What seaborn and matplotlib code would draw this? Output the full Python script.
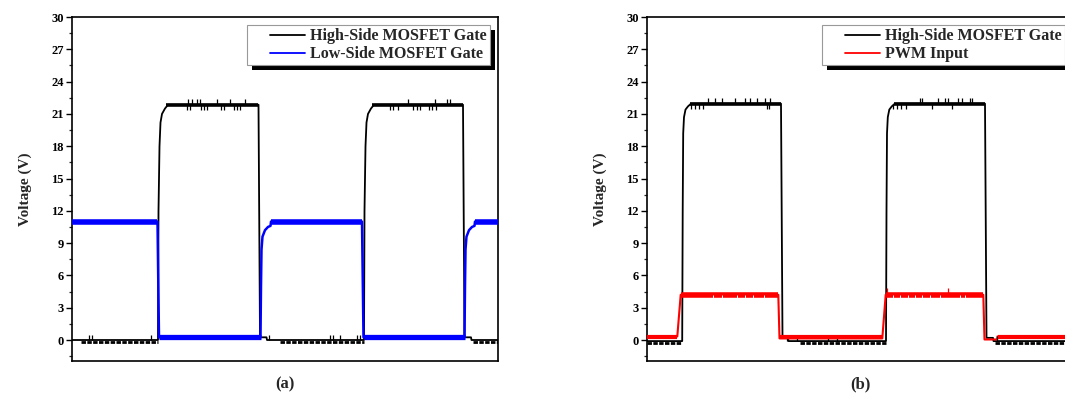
import numpy as np
import pandas as pd
import matplotlib
matplotlib.use("Agg")
import matplotlib.pyplot as plt
import seaborn as sns
from matplotlib.lines import Line2D
from matplotlib.patches import Rectangle
from matplotlib.transforms import IdentityTransform
from matplotlib.ticker import MultipleLocator
from matplotlib.legend_handler import HandlerLine2D

# ---- panel (a): high-side vs low-side gate (time in us) ----
hs_a_t = [0.0, 8.6, 8.65, 8.75, 8.85, 9.0, 9.3, 9.6, 18.65, 18.8, 19.45, 19.5,
          29.2, 29.25, 29.35, 29.45, 29.6, 29.9, 30.2, 39.1, 39.25, 39.9, 39.95, 42.6]
hs_a_v = [0.0, 0.0, 12.0, 18.0, 20.2, 21.0, 21.5, 21.85, 21.85, 0.25, 0.25, 0.0,
          0.0, 12.0, 18.0, 20.2, 21.0, 21.5, 21.85, 21.85, 0.25, 0.25, 0.0, 0.0]
hs_a_top = 21.85
hs_a_top_start = [9.4, 30.0]
hs_a_top_end = [18.6, 39.05]
hs_a_comb_start = [0.9, 20.8, 40.1]
hs_a_comb_end = [8.6, 29.2, 42.6]
hs_a_spk_up = [11.6, 12.0, 12.5, 12.8, 14.5, 15.8, 17.3, 33.6, 36.3, 37.5, 37.8]
hs_a_spk_dn = [11.5, 11.8, 12.9, 13.2, 13.5, 14.9, 15.2, 16.2, 16.5, 16.8,
               31.8, 32.1, 32.6, 34.1, 34.5, 34.8, 35.7, 36.0, 36.4]
hs_a_low_spk = [1.7, 2.0, 7.9, 19.7, 25.8, 26.1, 26.8, 28.5, 28.8]

ls_a_t = [0.0, 8.55, 8.7, 18.85, 18.9, 18.95, 19.05, 19.3, 19.6, 19.85, 19.9,
          29.0, 29.15, 39.25, 39.3, 39.35, 39.45, 39.7, 40.0, 40.25, 40.3, 42.6]
ls_a_v = [11.0, 11.0, 0.25, 0.25, 5.0, 8.4, 9.6, 10.2, 10.5, 10.6, 11.0,
          11.0, 0.25, 0.25, 5.0, 8.4, 9.6, 10.2, 10.5, 10.6, 11.0, 11.0]
ls_a_hi, ls_a_lo = 10.95, 0.25
ls_a_hi_start = [0.0, 19.9, 40.3]
ls_a_hi_end = [8.5, 29.0, 42.6]
ls_a_lo_start = [8.7, 29.15]
ls_a_lo_end = [18.85, 39.25]

# ---- panel (b): high-side gate vs PWM input ----
hs_b_t = [0.0, 3.52, 3.57, 3.62, 3.7, 3.85, 4.1, 4.4, 13.4, 13.55, 14.1, 14.15,
          23.9, 23.95, 24.0, 24.08, 24.23, 24.48, 24.78, 33.8, 33.95, 34.6, 34.65, 42.6]
hs_b_v = [-0.1, -0.1, 12.0, 19.2, 20.7, 21.4, 21.7, 21.95, 21.95, 0.2, 0.2, -0.1,
          -0.1, 12.0, 19.2, 20.7, 21.4, 21.7, 21.95, 21.95, 0.2, 0.2, -0.1, -0.1]
hs_b_top = 21.95
hs_b_top_start = [4.3, 24.7]
hs_b_top_end = [13.35, 33.75]
hs_b_comb_start = [0.0, 15.3, 34.8]
hs_b_comb_end = [3.5, 23.9, 42.6]
hs_b_spk_up = [6.1, 6.8, 7.5, 8.8, 9.8, 10.3, 11.0, 11.8, 12.3,
               27.3, 27.5, 29.1, 29.8, 30.1, 31.1, 31.5, 32.3, 32.5]
hs_b_spk_dn = [4.4, 4.8, 5.2, 5.6, 12.0, 12.2, 24.6, 25.0, 25.4, 25.9, 28.5, 30.5]
hs_b_low_spk = [14.0, 15.0, 18.1, 19.0, 35.0]

pwm_b_t = [0.0, 3.03, 3.37, 13.13, 13.25, 23.53, 23.87, 33.63, 33.75, 35.0, 35.05, 42.6]
pwm_b_v = [0.33, 0.33, 4.2, 4.2, 0.15, 0.15, 4.2, 4.2, 0.05, 0.05, 0.33, 0.33]
pwm_b_hi, pwm_b_lo = 4.2, 0.3
pwm_b_hi_start = [3.4, 23.9]
pwm_b_hi_end = [13.1, 33.6]
pwm_b_lo_start = [0.0, 13.3, 35.05]
pwm_b_lo_end = [3.0, 23.5, 42.6]
pwm_b_spk_up = [23.97, 30.1]
pwm_b_spk_dn = [6.6, 7.5, 9.0, 9.8, 10.6, 11.7, 24.6, 25.3, 26.1, 26.8,
                27.5, 28.3, 29.3, 31.3, 31.8]

yticks = list(range(0, 31, 3))

sns.set_theme(style="white")
plt.rcParams['font.family'] = ['Liberation Serif', 'DejaVu Serif']
plt.rcParams['font.weight'] = 'bold'

BLACK = '#000000'
BLUE = '#0000ff'
RED = '#ff0000'


class PaddedLine(HandlerLine2D):
    # Origin legends leave an empty gap left of the line sample
    def get_xdata(self, legend, xdescent, ydescent, width, height, fontsize):
        x = np.array([-xdescent + width * 0.36, -xdescent + width])
        return x, x


def trace(ax, t, v, color, lw):
    df = pd.DataFrame({'t': t, 'v': v})
    sns.lineplot(data=df, x='t', y='v', color=color, lw=lw, sort=False,
                 estimator=None, ax=ax, legend=False)


def gate_noise(ax, top, top_s, top_e, comb_s, comb_e, up, dn, low_spk, base):
    ax.hlines([top] * len(top_s), top_s, top_e, color=BLACK, lw=2.6, zorder=3)
    ax.hlines([base - 0.15] * len(comb_s), comb_s, comb_e, color=BLACK, lw=2.0,
              linestyles=[(0, (1.6, 0.5))], zorder=3)
    ax.vlines(up, top, top + 0.5, color=BLACK, lw=0.9, zorder=3)
    ax.vlines(dn, top - 0.45, top, color=BLACK, lw=0.9, zorder=3)
    ax.vlines(low_spk, base, base + 0.45, color=BLACK, lw=0.9, zorder=3)


def style_axes(ax, label):
    ax.set_xlim(0, 42.6)
    ax.set_ylim(-1.95, 30)
    ax.set_xticks([])
    ax.set_yticks(yticks)
    ax.yaxis.set_minor_locator(MultipleLocator(1.5))
    ax.tick_params(axis='y', which='major', direction='out', length=4.3, width=1.0,
                   labelsize=9, pad=1.5, left=True, colors='black')
    ax.tick_params(axis='y', which='minor', direction='out', length=2.3, width=0.9, left=True)
    for s in ax.spines.values():
        s.set_visible(True)
        s.set_color('black')
        s.set_linewidth(1.2)
    ax.set_ylabel('Voltage (V)', fontsize=11, fontweight='bold', labelpad=14)
    ax.set_xlabel(label, fontsize=12, fontweight='bold', labelpad=11)


def add_legend(ax, labels, colors):
    handles = [Line2D([], [], color=c, lw=1.3) for c in colors]
    leg = ax.legend(handles, labels, loc='upper right', fancybox=False, frameon=True,
                    handlelength=3.4, handletextpad=0.35, borderpad=0.2,
                    labelspacing=0.12, borderaxespad=0.5,
                    prop={'weight': 'bold', 'size': 11.5},
                    handler_map={Line2D: PaddedLine()})
    leg.get_frame().set_edgecolor('#999999')
    leg.get_frame().set_linewidth(0.8)
    leg.get_frame().set_alpha(1)
    return leg


fig = plt.figure(figsize=(10.65, 3.94), dpi=100)
ax1 = fig.add_axes([72 / 1065, 33 / 394, 426 / 1065, 344 / 394])
ax2 = fig.add_axes([647 / 1065, 33 / 394, 426 / 1065, 344 / 394])

# panel (a)
trace(ax1, hs_a_t, hs_a_v, BLACK, 1.3)
gate_noise(ax1, hs_a_top, hs_a_top_start, hs_a_top_end, hs_a_comb_start, hs_a_comb_end,
           hs_a_spk_up, hs_a_spk_dn, hs_a_low_spk, 0.0)
trace(ax1, ls_a_t, ls_a_v, BLUE, 1.8)
ax1.hlines([ls_a_hi] * len(ls_a_hi_start), ls_a_hi_start, ls_a_hi_end, color=BLUE, lw=4.0, zorder=4)
ax1.hlines([ls_a_lo] * len(ls_a_lo_start), ls_a_lo_start, ls_a_lo_end, color=BLUE, lw=3.8, zorder=4)
style_axes(ax1, '(a)')
leg1 = add_legend(ax1, ['High-Side MOSFET Gate', 'Low-Side MOSFET Gate'], [BLACK, BLUE])

# panel (b)
trace(ax2, hs_b_t, hs_b_v, BLACK, 1.3)
gate_noise(ax2, hs_b_top, hs_b_top_start, hs_b_top_end, hs_b_comb_start, hs_b_comb_end,
           hs_b_spk_up, hs_b_spk_dn, hs_b_low_spk, -0.1)
trace(ax2, pwm_b_t, pwm_b_v, RED, 1.5)
ax2.hlines([pwm_b_hi] * len(pwm_b_hi_start), pwm_b_hi_start, pwm_b_hi_end, color=RED, lw=4.0, zorder=4)
ax2.hlines([pwm_b_lo] * len(pwm_b_lo_start), pwm_b_lo_start, pwm_b_lo_end, color=RED, lw=3.0, zorder=4)
ax2.vlines(pwm_b_spk_up, pwm_b_hi, pwm_b_hi + 0.65, color=RED, lw=0.9, zorder=4)
ax2.vlines(pwm_b_spk_dn, pwm_b_hi - 0.35, pwm_b_hi, color='white', lw=0.7, zorder=4)
style_axes(ax2, '(b)')
leg2 = add_legend(ax2, ['High-Side MOSFET Gate', 'PWM Input'], [BLACK, RED])

# Origin-style solid black drop shadow behind each legend box
fig.canvas.draw()
for ax, leg in [(ax1, leg1), (ax2, leg2)]:
    bb = leg.get_window_extent()
    shadow = Rectangle((bb.x0 + 5, bb.y0 - 5), bb.width, bb.height, transform=IdentityTransform(),
                       facecolor='black', edgecolor='none', zorder=4.9, clip_on=False)
    ax.add_artist(shadow)

fig.savefig('out.png', dpi=100)
